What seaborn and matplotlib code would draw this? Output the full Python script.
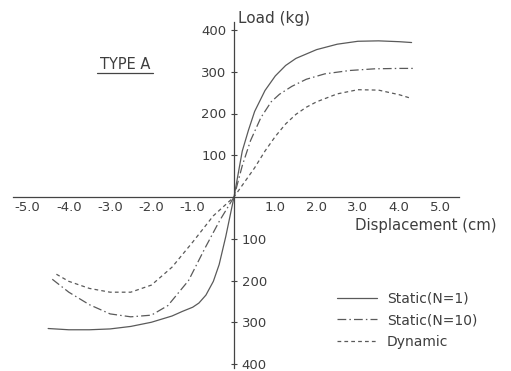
import matplotlib
matplotlib.use("Agg")
import matplotlib.pyplot as plt
import seaborn as sns
import pandas as pd
from matplotlib.lines import Line2D

# ---- data ----
series_names = ["Static(N=1)", "Static(N=10)", "Dynamic"]

x_static1 = [-4.5, -4.0, -3.5, -3.0, -2.5, -2.0, -1.5, -1.25, -1.0, -0.85, -0.68, -0.5, -0.36, -0.2, 0.0,
             0.1, 0.2, 0.35, 0.5, 0.75, 1.0, 1.25, 1.5, 2.0, 2.5, 3.0, 3.5, 4.0, 4.3]
y_static1 = [-315, -318, -318, -316, -310, -300, -285, -274, -264, -254, -235, -202, -162, -95, 0,
             55, 110, 160, 205, 255, 290, 315, 332, 353, 366, 373, 374, 372, 370]

x_static10 = [-4.4, -4.0, -3.5, -3.0, -2.5, -2.0, -1.6, -1.1, -0.7, -0.35, 0.0,
              0.2, 0.4, 0.65, 0.9, 1.1, 1.4, 1.75, 2.2, 2.8, 3.4, 4.0, 4.35]
y_static10 = [-197, -228, -258, -280, -287, -283, -260, -200, -122, -57, 0,
              75, 135, 190, 228, 246, 265, 282, 295, 303, 307, 308, 308]

x_dynamic = [-4.3, -4.0, -3.5, -3.0, -2.5, -2.0, -1.5, -1.0, -0.5, 0.0,
             0.25, 0.5, 0.75, 1.0, 1.25, 1.5, 1.75, 2.0, 2.5, 3.0, 3.5, 4.0, 4.3]
y_dynamic = [-185, -202, -219, -228, -228, -211, -168, -108, -45, 0,
             35, 70, 110, 145, 175, 198, 215, 228, 247, 257, 256, 245, 236]

x_ticks = [-5.0, -4.0, -3.0, -2.0, -1.0, 1.0, 2.0, 3.0, 4.0, 5.0]
y_ticks = [-400, -300, -200, -100, 100, 200, 300, 400]

# ---- style ----
sns.set_style("white")
plt.rcParams["font.family"] = ["DejaVu Sans"]
TXT = "#3e3e3e"
LINE = "#5a5a5a"

W, H = 511, 371
fig = plt.figure(figsize=(W / 100, H / 100), dpi=100)
ax = fig.add_axes([0, 0, 1, 1])
ax.set_facecolor("white")

df = pd.concat([
    pd.DataFrame({"x": x_static1, "y": y_static1, "series": series_names[0]}),
    pd.DataFrame({"x": x_static10, "y": y_static10, "series": series_names[1]}),
    pd.DataFrame({"x": x_dynamic, "y": y_dynamic, "series": series_names[2]}),
], ignore_index=True)

sns.lineplot(
    data=df, x="x", y="y", hue="series", style="series",
    hue_order=series_names, style_order=series_names,
    palette={n: LINE for n in series_names},
    dashes={series_names[0]: "", series_names[1]: (7, 2.5, 1.2, 2.5), series_names[2]: (3, 2.5)},
    estimator=None, sort=False, linewidth=0.9, ax=ax,
)

# axes mapping: origin at (234, 197) px, 41.3 px / cm, 41.75 px / 100 kg
ax.set_xlim(-234 / 41.3, (W - 234) / 41.3)
ax.set_ylim(-(H - 197) / 0.4175, 197 / 0.4175)

for s in ["top", "right"]:
    ax.spines[s].set_visible(False)
ax.spines["left"].set_position(("data", 0))
ax.spines["bottom"].set_position(("data", 0))
ax.spines["right"].set_position(("data", 0))
ax.spines["left"].set_bounds(-410, 418)
ax.spines["bottom"].set_bounds(-5.35, 5.45)
for s in ["left", "bottom"]:
    ax.spines[s].set_color("#444444")
    ax.spines[s].set_linewidth(0.9)

ax.set_xticks(x_ticks)
ax.set_xticklabels([f"{v:.1f}" for v in x_ticks])
ax.set_yticks(y_ticks)
ax.set_yticklabels([f"{abs(v)}" for v in y_ticks])

ax.tick_params(axis="both", direction="inout", length=5, width=0.8,
               color="#444444", labelcolor=TXT, labelsize=9.5)
ax.tick_params(axis="x", pad=0.5)
ax.tick_params(axis="y", pad=3, right=False, labelright=True, left=True, labelleft=True)

for v, t in zip(y_ticks, ax.yaxis.get_major_ticks()):
    t.label1.set_visible(v > 0)
    t.label2.set_visible(v < 0)

# axis titles
ax.set_xlabel("Displacement (cm)", fontsize=10.7, color=TXT, ha="left", va="baseline")
ax.xaxis.set_label_coords(355 / W, 1 - 230 / H)
ax.set_ylabel("Load (kg)", fontsize=11, color=TXT, rotation=0, ha="left", va="baseline")
ax.yaxis.set_label_coords(238 / W, 1 - 23 / H)

# TYPE A with underline
fig.text(100 / W, 1 - 69 / H, "TYPE A", fontsize=10.5, color=TXT, ha="left", va="baseline")
fig.add_artist(Line2D([97 / W, 153 / W], [1 - 73 / H, 1 - 73 / H],
                      transform=fig.transFigure, color="#444444", lw=0.9))

# legend
handles, labels = ax.get_legend_handles_labels()
leg = ax.legend(handles, labels, loc="center left",
                bbox_to_anchor=(337 / W, 1 - 320 / H), bbox_transform=fig.transFigure,
                frameon=False, fontsize=10, handlelength=2.9, handletextpad=0.7,
                labelspacing=0.55, borderpad=0, borderaxespad=0)
for txt in leg.get_texts():
    txt.set_color(TXT)

fig.savefig("out.png", dpi=100, facecolor="white")
